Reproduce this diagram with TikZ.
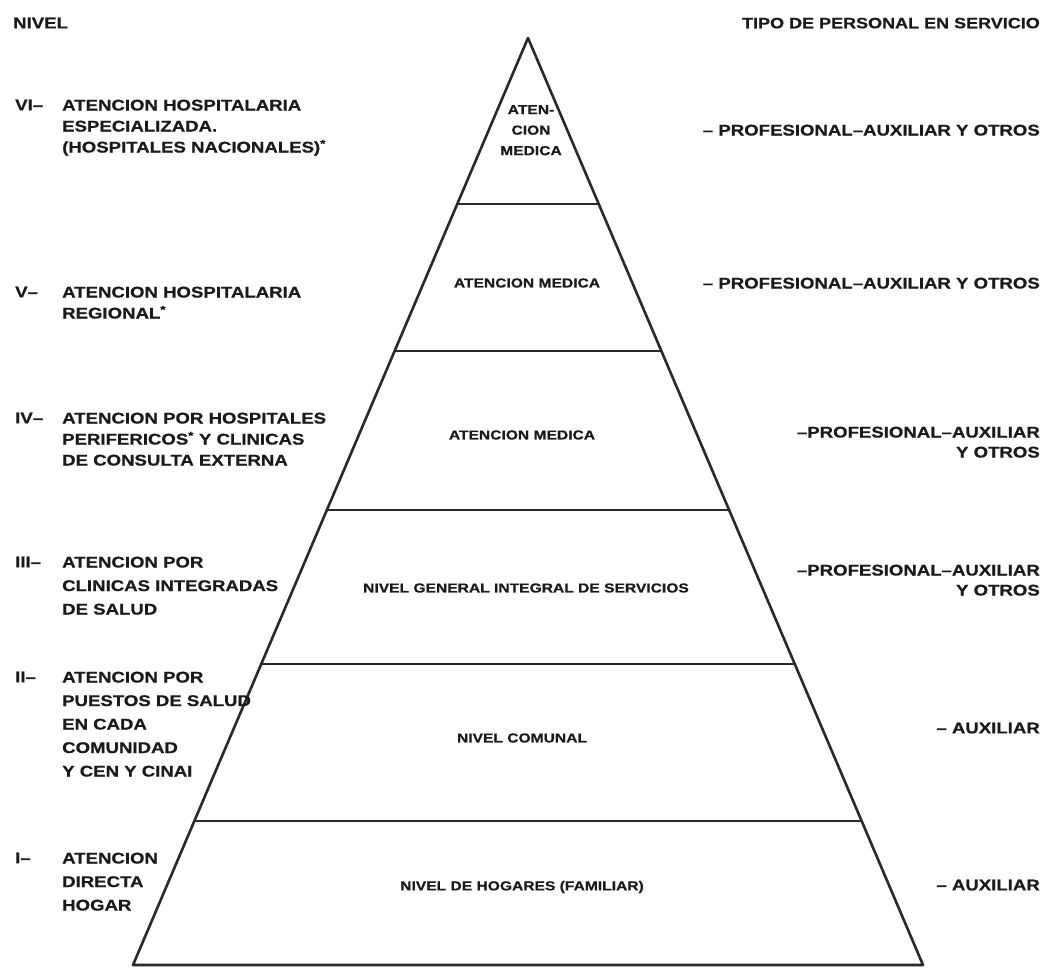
\documentclass[tikz,border=0pt]{standalone}
\usepackage{fontspec}
\usetikzlibrary{calc}
\newfontfamily\lab{Liberation Sans}[FakeStretch=1.2, BoldFeatures={FakeBold=0.6}]
\definecolor{ink}{HTML}{1C1A18}
\definecolor{edge}{HTML}{2B2825}
\tikzset{
  outer/.style={font=\lab\bfseries\fontsize{15.5}{21}\selectfont, text=ink, inner sep=0pt},
  outerw/.style={outer, font=\lab\bfseries\fontsize{15.5}{23.5}\selectfont},
  lefttxt/.style={anchor=north west, align=left},
  righttxt/.style={anchor=north east, align=right},
  inner/.style={font=\lab\bfseries\fontsize{13}{20.5}\selectfont, text=ink, inner sep=0pt, align=center},
  tier/.style={draw=edge, line width=2.6pt, line cap=round, line join=round}
}
\begin{document}
\begin{tikzpicture}[x=1pt,y=-1pt]
\useasboundingbox[fill=white] (0,0) rectangle (1045,971);
% pyramid
\coordinate (apex) at (528,38);
\coordinate (bl) at (133,965);
\coordinate (br) at (923,965);
\draw[tier] (bl) -- (apex) -- (br) -- cycle;
\foreach \t/\n in {0.1790/a, 0.3376/b, 0.5092/c, 0.6753/d, 0.8447/e}{
  \coordinate (L\n) at ($(apex)!\t!(bl)$);
  \coordinate (R\n) at ($(apex)!\t!(br)$);
  \draw[tier] (L\n) -- (R\n);
}
% headers
\node[outer, anchor=north west] (hnivel) at (13,17.5) {NIVEL};
\node[outer, righttxt, font=\lab\bfseries\fontsize{15}{20}\selectfont] (htipo) at (1040,17.6) {TIPO DE PERSONAL EN SERVICIO};
% level numerals
\node[outer, lefttxt] (n6) at (15,99.5) {VI–};
\node[outer, lefttxt] (n5) at (15,286.5) {V–};
\node[outer, lefttxt] (n4) at (15,412.5) {IV–};
\node[outer, lefttxt] (n3) at (15,556.5) {III–};
\node[outer, lefttxt] (n2) at (15,671.5) {II–};
\node[outer, lefttxt] (n1) at (15,852.5) {I–};
% level descriptions
\node[outer, lefttxt] (d6) at (62,99.5) {ATENCION HOSPITALARIA\\ESPECIALIZADA.\\(HOSPITALES NACIONALES)\textsuperscript{*}};
\node[outer, lefttxt] (d5) at (62,286.5) {ATENCION HOSPITALARIA\\REGIONAL\textsuperscript{*}};
\node[outer, lefttxt] (d4) at (62,412.5) {ATENCION POR HOSPITALES\\PERIFERICOS\textsuperscript{*} Y CLINICAS\\DE CONSULTA EXTERNA};
\node[outerw, lefttxt] (d3) at (62,556.5) {ATENCION POR\\CLINICAS INTEGRADAS\\DE SALUD};
\node[outerw, lefttxt] (d2) at (62,671.5) {ATENCION POR\\PUESTOS DE SALUD\\EN CADA\\COMUNIDAD\\Y CEN Y CINAI};
\node[outerw, lefttxt] (d1) at (62,852.5) {ATENCION\\DIRECTA\\HOGAR};
% pyramid labels
\node[inner, anchor=north] (p6) at (531,105) {ATEN-\\CION\\MEDICA};
\node[inner] (p5) at (527,283) {ATENCION MEDICA};
\node[inner] (p4) at (522,435) {ATENCION MEDICA};
\node[inner] (p3) at (526,588) {NIVEL GENERAL INTEGRAL DE SERVICIOS};
\node[inner] (p2) at (522,738) {NIVEL COMUNAL};
\node[inner] (p1) at (522,887) {NIVEL DE HOGARES (FAMILIAR)};
% personnel
\node[outer, righttxt] (r6) at (1040,124.5) {– PROFESIONAL–AUXILIAR Y OTROS};
\node[outer, righttxt] (r5) at (1040,277.5) {– PROFESIONAL–AUXILIAR Y OTROS};
\node[outer, righttxt, font=\lab\bfseries\fontsize{15.5}{20}\selectfont] (r4) at (1040,426.5) {–PROFESIONAL–AUXILIAR\\Y OTROS};
\node[outer, righttxt, font=\lab\bfseries\fontsize{15.5}{20}\selectfont] (r3) at (1040,564.5) {–PROFESIONAL–AUXILIAR\\Y OTROS};
\node[outer, righttxt] (r2) at (1040,722.5) {– AUXILIAR};
\node[outer, righttxt] (r1) at (1040,879.5) {– AUXILIAR};
\end{tikzpicture}
\end{document}
